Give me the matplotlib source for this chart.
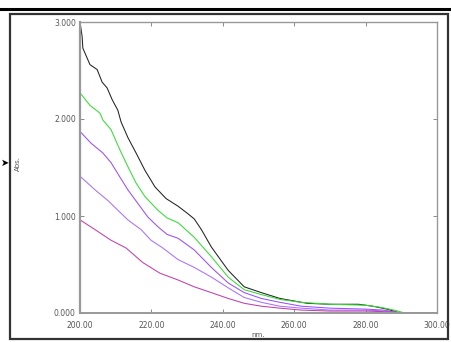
import matplotlib
matplotlib.use("Agg")
import matplotlib.pyplot as plt
from matplotlib.patches import Rectangle
from matplotlib.lines import Line2D

# absorbance spectra
black_nm = [200.0, 200.6, 200.8, 202.8, 204.8, 206.2, 207.6, 209.0, 210.6, 211.5, 213.4, 215.7,
            218.2, 221.0, 224.1, 227.5, 230.0, 232.0, 234.0, 236.8, 241.5, 246.0, 250.8, 256.0,
            263.6, 270.0, 278.0, 282.0, 286.0, 289.6, 300.0]
black_abs = [3.00, 2.85, 2.73, 2.56, 2.51, 2.38, 2.32, 2.20, 2.09, 1.97, 1.81, 1.65,
             1.47, 1.30, 1.18, 1.10, 1.03, 0.97, 0.86, 0.68, 0.44, 0.27, 0.21, 0.15,
             0.10, 0.09, 0.09, 0.07, 0.04, 0.00, 0.00]

green_nm = [200.0, 202.8, 205.6, 206.4, 208.7, 211.2, 213.4, 215.7, 218.2, 221.8, 224.4, 227.5,
            232.0, 236.8, 241.5, 246.0, 250.8, 256.0, 262.0, 270.0, 280.0, 284.0, 288.0, 291.0]
green_abs = [2.27, 2.14, 2.06, 1.99, 1.89, 1.68, 1.51, 1.34, 1.20, 1.06, 0.98, 0.93,
             0.78, 0.58, 0.37, 0.24, 0.19, 0.14, 0.11, 0.09, 0.08, 0.06, 0.03, 0.00]

violet_nm = [200.3, 203.1, 206.4, 208.7, 211.2, 213.4, 216.2, 219.0, 221.8, 224.4, 227.5, 232.0,
             236.8, 241.5, 246.0, 250.8, 256.0, 262.0, 270.0, 280.0, 285.0, 290.0]
violet_abs = [1.86, 1.75, 1.65, 1.55, 1.40, 1.27, 1.13, 0.99, 0.89, 0.81, 0.77, 0.65,
              0.47, 0.31, 0.21, 0.15, 0.11, 0.07, 0.05, 0.04, 0.03, 0.00]

lilac_nm = [200.3, 204.2, 207.8, 210.6, 213.4, 217.1, 219.9, 223.2, 227.5, 232.0, 236.8, 241.5,
            246.0, 250.8, 256.0, 262.0, 270.0, 280.0, 286.0, 290.0]
lilac_abs = [1.40, 1.27, 1.16, 1.06, 0.96, 0.86, 0.75, 0.67, 0.55, 0.47, 0.37, 0.26,
             0.16, 0.11, 0.07, 0.05, 0.03, 0.03, 0.02, 0.00]

magenta_nm = [200.0, 204.2, 208.7, 212.9, 217.6, 222.4, 227.5, 232.0, 236.8, 241.5, 246.0, 250.8,
              256.0, 262.0, 270.0, 280.0, 288.0, 290.0]
magenta_abs = [0.96, 0.86, 0.75, 0.67, 0.52, 0.41, 0.34, 0.27, 0.21, 0.15, 0.10, 0.07,
               0.05, 0.03, 0.02, 0.02, 0.01, 0.00]

x_ticks = [200, 220, 240, 260, 280, 300]
y_ticks = [0, 1, 2, 3]

W, H = 451, 342
fig = plt.figure(figsize=(W / 100, H / 100), dpi=100)
ax = fig.add_axes([80 / W, 1 - 313 / H, 357 / W, 291 / H])

ax.plot(black_nm, black_abs, color="#222222", lw=0.75)
ax.plot(green_nm, green_abs, color="#33dd33", lw=0.75)
ax.plot(violet_nm, violet_abs, color="#9a4dff", lw=0.75)
ax.plot(lilac_nm, lilac_abs, color="#a870ff", lw=0.75)
ax.plot(magenta_nm, magenta_abs, color="#c040a8", lw=0.75)

ax.set_xlim(200, 300)
ax.set_ylim(0, 3)
ax.set_xticks(x_ticks)
ax.set_xticklabels([f"{v:.2f}" for v in x_ticks])
ax.set_yticks(y_ticks)
ax.set_yticklabels([f"{v:.3f}" for v in y_ticks])
ax.tick_params(direction="in", length=3, width=0.6, colors="#777777",
               labelsize=5.5, labelcolor="#555555", top=True, right=True)
ax.tick_params(axis="x", pad=6)
ax.tick_params(axis="y", pad=3)
for s in ax.spines.values():
    s.set_color("#999999")
    s.set_linewidth(1.0)
ax.spines["left"].set_linewidth(1.6)
ax.spines["bottom"].set_linewidth(1.4)

ax.set_xlabel("nm.", fontsize=5, color="#555555")
ax.xaxis.set_label_coords(0.5, -0.066)
ax.set_ylabel("Abs.", fontsize=5, color="#555555")
ax.yaxis.set_label_coords(-0.165, 0.515)

# scan frame and header rule
fig.add_artist(Rectangle((10 / W, 1 - 339 / H), 438 / W, 325 / H, transform=fig.transFigure,
                         fill=False, edgecolor="#333333", lw=1.6))
fig.add_artist(Line2D([0, 1], [1 - 8.5 / H, 1 - 8.5 / H], transform=fig.transFigure,
                      color="black", lw=2.2))
fig.text(1 / W, 1 - 163 / H, "➤", fontsize=7, color="black", va="center", ha="left")

fig.savefig("out.png", dpi=100)
